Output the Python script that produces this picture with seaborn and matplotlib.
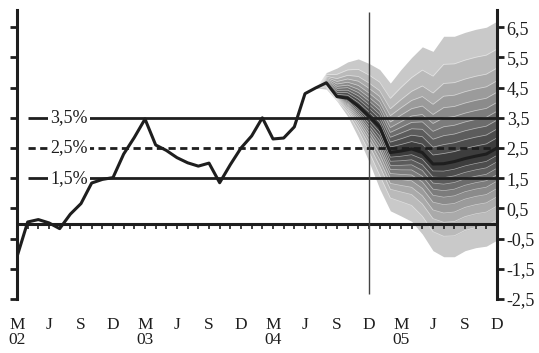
import numpy as np
import pandas as pd
import matplotlib
matplotlib.use("Agg")
import matplotlib.pyplot as plt
import seaborn as sns

# ---------------- data ----------------
quarter_letters = ["M", "J", "S", "D"]
years = ["02", "03", "04", "05"]

# monthly index 0 = March 2002 ... 45 = December 2005
inflation = [-1.1, 0.05, 0.13, 0.02, -0.17, 0.31, 0.66, 1.34, 1.46, 1.52,
             2.3, 2.85, 3.46, 2.6, 2.42, 2.18, 2.01, 1.9, 2.0, 1.35,
             1.95, 2.5, 2.9, 3.5, 2.8, 2.83, 3.2, 4.3, 4.49, 4.66,
             4.2, 4.15, 3.88, 3.55,
             3.2, 2.35, 2.4, 2.47, 2.35, 1.97, 1.98, 2.05, 2.15, 2.23, 2.3, 2.5]

fan_start = 28
fan_upper = [4.49, 5.0, 5.15, 5.35, 5.45, 5.3, 5.1, 4.65, 5.1, 5.5, 5.85, 5.7,
             6.2, 6.2, 6.33, 6.43, 6.5, 6.7]
fan_lower = [4.49, 4.45, 4.05, 3.55, 2.85, 2.05, 1.15, 0.42, 0.25, 0.07, -0.35, -0.9,
             -1.1, -1.1, -0.9, -0.8, -0.75, -0.55]
band_fracs = [1.0, 0.78, 0.63, 0.53, 0.44, 0.36, 0.29, 0.22, 0.15, 0.08]

ref_levels = [3.5, 2.5, 1.5]
ref_labels = ["3,5%", "2,5%", "1,5%"]
ref_styles = ["solid", "dashed", "solid"]

ytick_values = [-2.5, -1.5, -0.5, 0.5, 1.5, 2.5, 3.5, 4.5, 5.5, 6.5]
ytick_labels = ["-2,5", "-1,5", "-0,5", "0,5", "1,5", "2,5", "3,5", "4,5", "5,5", "6,5"]
split_month = 33

# ---------------- style ----------------
sns.set_style("white")
plt.rcParams["font.family"] = ["Liberation Serif", "DejaVu Serif"]
ink = "#1e1e1e"

months = np.arange(len(inflation))
df = pd.DataFrame({"month": months, "value": inflation})

fig = plt.figure(figsize=(5.39, 3.53), dpi=100)
ax = fig.add_axes([17 / 539, 54 / 353, 480 / 539, 289 / 353])

# ---------------- fan ----------------
fm = months[fan_start:]
center = np.array(inflation[fan_start:])
up = np.array(fan_upper)
lo = np.array(fan_lower)
n = len(band_fracs)
greys = np.linspace(0.79, 0.24, n)
for k, f in enumerate(band_fracs):
    u = center + f * (up - center)
    l = center + f * (lo - center)
    c = (greys[k],) * 3
    ax.fill_between(fm, l, u, color=c, lw=0, zorder=1)
    if k > 0:
        ax.plot(fm, u, color="white", lw=0.5, alpha=0.55, zorder=1.5)
        ax.plot(fm, l, color="white", lw=0.5, alpha=0.55, zorder=1.5)

# ---------------- reference lines ----------------
for lvl, lab, st in zip(ref_levels, ref_labels, ref_styles):
    if st == "dashed":
        ax.hlines(lvl, 1, 45, color=ink, lw=2.0, linestyles=(0, (2.6, 1.6)), zorder=3)
    else:
        ax.hlines(lvl, 1, 45, color=ink, lw=2.0, zorder=3)
    ax.text(4.85, lvl, lab, ha="center", va="center", fontsize=13, color=ink,
            bbox=dict(facecolor="white", edgecolor="none", pad=1.6), zorder=4)

# zero line with monthly ticks
ax.hlines(0, 0, 45, color=ink, lw=2.2, zorder=3)
ax.vlines(months[1:], -0.17, 0, color=ink, lw=1.2, zorder=3)

# vertical split line
ax.vlines(split_month, -2.35, 7.0, color="#444444", lw=1.0, zorder=3)

# ---------------- main line ----------------
sns.lineplot(data=df, x="month", y="value", ax=ax, color=ink, lw=2.2, zorder=5)

# ---------------- axes ----------------
ax.set_xlim(0, 45)
ax.set_ylim(-2.5, 7.07)
ax.set_xlabel("")
ax.set_ylabel("")

xt = np.arange(0, 46, 3)
xl = []
for j, m in enumerate(xt):
    letter = quarter_letters[j % 4]
    if j % 4 == 0:
        letter = letter + "\n" + years[j // 4]
    xl.append(letter)
ax.set_xticks(xt)
ax.set_xticklabels(xl, fontsize=12.5, color=ink, linespacing=0.95, va="top")
ax.tick_params(axis="x", length=0, pad=13)

ax.set_yticks(ytick_values)
ax.set_yticklabels(ytick_labels, fontsize=13, color=ink)
ax.tick_params(axis="y", left=True, right=True, labelleft=False, labelright=True,
               direction="out", length=5, width=2, color=ink, pad=2)

for s in ["top", "bottom"]:
    ax.spines[s].set_visible(False)
for s in ["left", "right"]:
    ax.spines[s].set_visible(True)
    ax.spines[s].set_linewidth(2.2)
    ax.spines[s].set_color(ink)

fig.savefig("out.png", dpi=100)
